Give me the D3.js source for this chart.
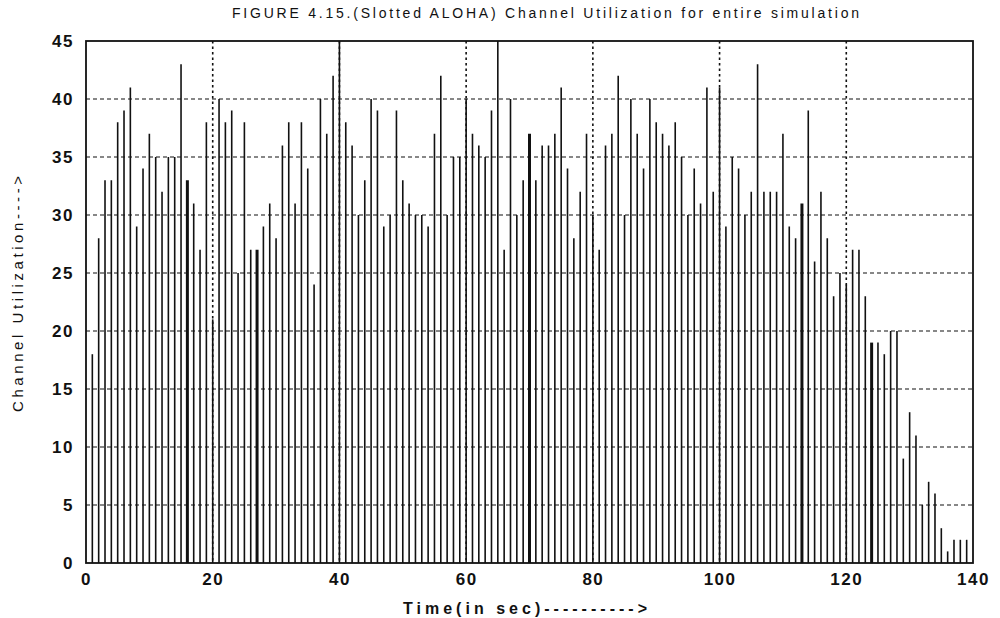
<!DOCTYPE html>
<html>
<head>
<meta charset="utf-8">
<script src="https://cdn.jsdelivr.net/npm/d3@7"></script>
<style>
  html, body { margin: 0; padding: 0; background: #fff; }
  svg { display: block; }
</style>
</head>
<body>
<svg id="chart" width="1000" height="618"></svg>
<script>
// Simulation time slots (seconds) and the channel utilization measured in each
const slots = [
  1, 2, 3, 4, 5, 6, 7, 8, 9, 10, 11, 12, 13, 14, 15, 16, 17, 18, 19, 20,
  21, 22, 23, 24, 25, 26, 27, 28, 29, 30, 31, 32, 33, 34, 35, 36, 37, 38, 39, 40,
  41, 42, 43, 44, 45, 46, 47, 48, 49, 50, 51, 52, 53, 54, 55, 56, 57, 58, 59, 60,
  61, 62, 63, 64, 65, 66, 67, 68, 69, 70, 71, 72, 73, 74, 75, 76, 77, 78, 79, 80,
  81, 82, 83, 84, 85, 86, 87, 88, 89, 90, 91, 92, 93, 94, 95, 96, 97, 98, 99, 100,
  101, 102, 103, 104, 105, 106, 107, 108, 109, 110, 111, 112, 113, 114, 115, 116, 117, 118, 119, 120,
  121, 122, 123, 124, 125, 126, 127, 128, 129, 130, 131, 132, 133, 134, 135, 136, 137, 138, 139
];
const utilization = [
  18, 28, 33, 33, 38, 39, 41, 29, 34, 37, 35, 32, 35, 35, 43, 33, 31, 27, 38, 21,
  40, 38, 39, 25, 38, 27, 27, 29, 31, 28, 36, 38, 31, 38, 34, 24, 40, 37, 42, 45,
  38, 36, 30, 33, 40, 39, 29, 30, 39, 33, 31, 30, 30, 29, 37, 42, 30, 35, 35, 40,
  37, 36, 35, 39, 45, 27, 40, 30, 33, 37, 33, 36, 36, 37, 41, 34, 28, 32, 37, 30,
  27, 36, 37, 42, 30, 40, 37, 34, 40, 38, 37, 36, 38, 35, 30, 34, 31, 41, 32, 41,
  29, 35, 34, 30, 32, 43, 32, 32, 32, 37, 29, 28, 31, 39, 26, 32, 28, 23, 25, 24,
  27, 27, 23, 19, 19, 18, 20, 20, 9, 13, 11, 5, 7, 6, 3, 1, 2, 2, 2
];
const xTicks = [0, 20, 40, 60, 80, 100, 120, 140];
const yTicks = [0, 5, 10, 15, 20, 25, 30, 35, 40, 45];

const titleText = "FIGURE 4.15.(Slotted ALOHA) Channel Utilization for entire simulation";
const xLabel = "Time(in sec)---------->";
const yLabel = "Channel Utilization---->";

const svg = d3.select("#chart");
const font = "'Liberation Sans', Arial, Helvetica, sans-serif";

const plotLeft = 86, plotRight = 973, plotTop = 41, plotBottom = 563;
const x = d3.scaleLinear().domain([0, 140]).range([plotLeft, plotRight]);
const y = d3.scaleLinear().domain([0, 45]).range([plotBottom, plotTop]);

// dashed grid
const grid = svg.append("g").attr("stroke", "#111").attr("fill", "none");
grid.selectAll("line.h")
  .data(yTicks.filter(v => v > 0 && v < 45))
  .join("line")
  .attr("class", "h")
  .attr("x1", plotLeft).attr("x2", plotRight)
  .attr("y1", d => y(d)).attr("y2", d => y(d))
  .attr("stroke-width", 1.2)
  .attr("stroke-dasharray", "4,3");
grid.selectAll("line.v")
  .data(xTicks.filter(v => v > 0 && v < 140))
  .join("line")
  .attr("class", "v")
  .attr("x1", d => x(d)).attr("x2", d => x(d))
  .attr("y1", plotTop).attr("y2", plotBottom)
  .attr("stroke-width", 1.6)
  .attr("stroke-dasharray", "2.5,3");

// utilization bars; a few slots are drawn as double-width strokes
const heavySlots = new Set([16, 27, 70, 113, 124]);
svg.append("g")
  .attr("stroke", "#111")
  .selectAll("line")
  .data(slots.map((t, i) => ({ t, v: utilization[i] })))
  .join("line")
  .attr("stroke-width", d => heavySlots.has(d.t) ? 3 : 1.6)
  .attr("x1", d => x(d.t)).attr("x2", d => x(d.t))
  .attr("y1", y(0)).attr("y2", d => y(d.v));

// axes
const xAxis = d3.axisBottom(x).tickValues(xTicks).tickSize(0).tickPadding(8);
const yAxis = d3.axisLeft(y).tickValues(yTicks).tickSize(0).tickPadding(10);

const gx = svg.append("g").attr("transform", `translate(0,${plotBottom})`).call(xAxis);
const gy = svg.append("g").attr("transform", `translate(${plotLeft},0)`).call(yAxis);
[gx, gy].forEach(g => {
  g.select(".domain").remove();
  g.selectAll("text")
    .attr("fill", "#111")
    .style("font-family", font)
    .style("font-size", "17px")
    .style("font-weight", "bold")
    .style("letter-spacing", "1.5px");
});
gx.selectAll("text").attr("dy", "0.71em").attr("y", 10);
gy.selectAll("text").attr("x", -12);

// plot frame
svg.append("rect")
  .attr("x", plotLeft).attr("y", plotTop)
  .attr("width", plotRight - plotLeft).attr("height", plotBottom - plotTop)
  .attr("fill", "none")
  .attr("stroke", "#111")
  .attr("stroke-width", 1.8);

// title and axis labels
svg.append("text")
  .attr("x", 232).attr("y", 18)
  .attr("textLength", 627).attr("lengthAdjust", "spacing")
  .style("font-family", font).style("font-size", "14px")
  .attr("fill", "#111")
  .text(titleText);

svg.append("text")
  .attr("x", 403).attr("y", 614)
  .attr("textLength", 244).attr("lengthAdjust", "spacing")
  .style("font-family", font).style("font-size", "16px").style("font-weight", "bold")
  .attr("fill", "#111")
  .text(xLabel);

svg.append("text")
  .attr("transform", "translate(23,412) rotate(-90)")
  .attr("textLength", 236).attr("lengthAdjust", "spacing")
  .style("font-family", font).style("font-size", "15px")
  .attr("fill", "#111")
  .text(yLabel);
</script>
</body>
</html>
